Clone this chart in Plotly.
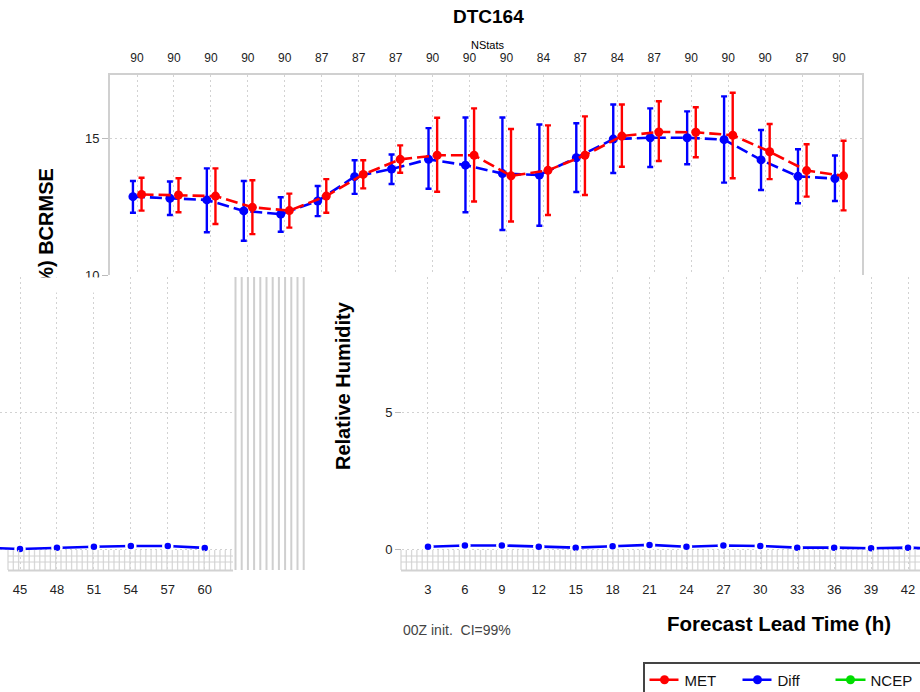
import plotly.graph_objects as go

# ---- data -------------------------------------------------------------
lead_hours = [3, 6, 9, 12, 15, 18, 21, 24, 27, 30, 33, 36, 39, 42, 45, 48, 51, 54, 57, 60]
nstats = [90, 90, 90, 90, 90, 87, 87, 87, 90, 90, 90, 84, 87, 84, 87, 90, 90, 90, 87, 90]

met_bcrmse = [12.94, 12.92, 12.88, 12.47, 12.35, 12.88, 13.67, 14.22, 14.37, 14.37,
              13.62, 13.82, 14.37, 15.07, 15.22, 15.21, 15.10, 14.50, 13.81, 13.62]
met_ci_lo = [12.35, 12.29, 11.86, 11.49, 11.73, 12.27, 13.16, 13.73, 13.04, 12.68,
             11.95, 12.19, 12.92, 13.95, 14.16, 14.30, 13.53, 13.50, 12.86, 12.36]
met_ci_hi = [13.55, 13.53, 13.89, 13.46, 12.97, 13.50, 14.19, 14.73, 15.74, 16.08,
             15.33, 15.46, 15.79, 16.22, 16.34, 16.12, 16.65, 15.51, 14.77, 14.90]

diff_bcrmse = [12.86, 12.80, 12.74, 12.34, 12.22, 12.70, 13.59, 13.87, 14.22, 14.01,
               13.70, 13.65, 14.28, 14.96, 15.01, 15.01, 14.94, 14.20, 13.60, 13.52]
diff_ci_lo = [12.27, 12.19, 11.56, 11.25, 11.58, 12.15, 12.96, 13.32, 13.15, 12.29,
              11.64, 11.80, 13.03, 13.72, 13.94, 14.04, 13.37, 13.10, 12.62, 12.70]
diff_ci_hi = [13.43, 13.41, 13.89, 13.43, 12.84, 13.25, 14.19, 14.40, 15.36, 15.75,
              15.75, 15.49, 15.54, 16.22, 16.08, 15.97, 16.52, 15.29, 14.59, 14.36]

# lower relative-humidity panel (pairwise difference)
rh_diff = [0.08, 0.13, 0.13, 0.08, 0.05, 0.10, 0.15, 0.08, 0.13, 0.11,
           0.05, 0.05, 0.03, 0.05, 0.00, 0.05, 0.08, 0.11, 0.11, 0.04]
rh_diff_err = [0.02, 0.02, 0.02, 0.02, 0.02, 0.02, 0.03, 0.02, 0.07, 0.04,
               0.03, 0.02, 0.02, 0.07, 0.10, 0.03, 0.02, 0.04, 0.04, 0.03]

ncep_bcrmse = [None]

# ---- geometry helpers (canvas 920 x 692, no margins) ------------------
W, H = 920, 692
def px(x):
    return x / W
def py(y):
    return 1 - y / H

RED, BLUE, GREEN = "#ff0000", "#0000ff", "#00dd00"
GRID = "#d2d2d2"
FRAME = "#d0d0d0"
FONT = "Liberation Sans"

met_x = [h + 0.37 for h in lead_hours]
diff_x = [h - 0.33 for h in lead_hours]

fig = go.Figure()

# top panel: BCRMSE with confidence intervals
fig.add_trace(go.Scatter(
    x=diff_x, y=diff_bcrmse, mode="lines+markers", name="Diff", legendrank=2,
    line=dict(color=BLUE, width=2.6, dash="12px,5px"),
    marker=dict(color=BLUE, size=9),
    error_y=dict(type="data", symmetric=False,
                 array=[h - v for h, v in zip(diff_ci_hi, diff_bcrmse)],
                 arrayminus=[v - l for l, v in zip(diff_ci_lo, diff_bcrmse)],
                 color=BLUE, thickness=2.4, width=3),
    xaxis="x", yaxis="y"))
fig.add_trace(go.Scatter(
    x=met_x, y=met_bcrmse, mode="lines+markers", name="MET", legendrank=1,
    line=dict(color=RED, width=2.6, dash="12px,5px"),
    marker=dict(color=RED, size=9),
    error_y=dict(type="data", symmetric=False,
                 array=[h - v for h, v in zip(met_ci_hi, met_bcrmse)],
                 arrayminus=[v - l for l, v in zip(met_ci_lo, met_bcrmse)],
                 color=RED, thickness=2.4, width=3),
    xaxis="x", yaxis="y"))
fig.add_trace(go.Scatter(
    x=[None], y=ncep_bcrmse, mode="lines+markers", name="NCEP", legendrank=3,
    line=dict(color=GREEN, width=2.6), marker=dict(color=GREEN, size=9),
    xaxis="x2", yaxis="y"))

# lower panels: relative humidity difference, split across two axes
for xa, ya in (("x3", "y3"), ("x4", "y4")):
    fig.add_trace(go.Scatter(
        x=lead_hours, y=rh_diff, mode="lines+markers", showlegend=False,
        line=dict(color=BLUE, width=2.6),
        marker=dict(color=BLUE, size=9, line=dict(color="white", width=2.5)),
        error_y=dict(type="data", array=rh_diff_err, color=BLUE, thickness=2.4, width=2),
        cliponaxis=True, xaxis=xa, yaxis=ya))

axis_common = dict(showgrid=True, gridcolor=GRID, griddash="2px,3px", gridwidth=1,
                   zeroline=False, tickfont=dict(family=FONT, size=13, color="#222"))

top_dom_x = [px(110), px(862)]
top_dom_y = [py(275), py(75)]
low_dom_y = [py(571), py(277)]
ppu = 27.4        # pixels per unit on the vertical scales
pph = 12.316      # pixels per hour on the horizontal scales
top_range = [3 - 27 / pph, 60 + 23 / pph]

fig.update_layout(
    width=W, height=H, margin=dict(l=0, r=0, t=0, b=0, autoexpand=False),
    paper_bgcolor="white", plot_bgcolor="rgba(0,0,0,0)",
    showlegend=True,
    xaxis=dict(domain=top_dom_x, range=top_range, anchor="y",
               tickvals=lead_hours, showticklabels=False, ticks="", showline=False,
               **axis_common),
    xaxis2=dict(overlaying="x", anchor="y", side="top", range=top_range,
                tickvals=lead_hours, ticktext=[str(n) for n in nstats],
                showticklabels=True, showgrid=False, zeroline=False,
                ticks="outside", ticklen=6, tickcolor="rgba(0,0,0,0)",
                showline=True, linecolor=FRAME, linewidth=2,
                tickfont=dict(family=FONT, size=12, color="#222")),
    yaxis=dict(domain=top_dom_y, range=[10, 10 + 200 / ppu], anchor="x",
               tickvals=[10, 15], ticks="outside", ticklen=6, tickcolor="#bbbbbb",
               showline=True, mirror=True, linecolor=FRAME, linewidth=2,
               **axis_common),
    xaxis3=dict(domain=[px(402), 1.0], range=[3 - 26 / pph, 42 + 12 / pph], anchor="y3",
                tickvals=lead_hours, ticks="", ticklabelstandoff=9, showline=False,
                **axis_common),
    yaxis3=dict(domain=low_dom_y, range=[-22 / ppu, 5 + 135 / ppu], anchor="x3",
                tickvals=[0, 5], ticks="outside", ticklen=6, tickcolor="#bbbbbb",
                showline=False, **axis_common),
    xaxis4=dict(domain=[0.0, px(235)], range=[45 - 20 / pph, 45 + 215 / pph], anchor="y4",
                tickvals=lead_hours, ticks="", ticklabelstandoff=9, showline=False,
                **axis_common),
    yaxis4=dict(domain=low_dom_y, range=[-22 / ppu, 5 + 135 / ppu], anchor="x4",
                tickvals=[0, 5], showticklabels=False, ticks="", showline=False,
                **axis_common),
    legend=dict(orientation="h", x=px(643), y=py(662), xanchor="left", yanchor="top",
                bgcolor="white", bordercolor="#444444", borderwidth=1.5,
                font=dict(family=FONT, size=15, color="#111"),
                entrywidth=48, entrywidthmode="pixels", itemwidth=30,
                traceorder="normal"),
)

# ---- decorative hatching under the lower panels -----------------------
def hatch_path(x0, x1, y0, y1, step):
    segs = []
    x = x0
    while x <= x1:
        segs.append(f"M{px(x):.5f},{py(y0):.5f} L{px(x):.5f},{py(y1):.5f}")
        x += step
    return " ".join(segs)

shapes = []
for x0, x1 in ((8, 233), (401, 920)):
    shapes.append(dict(type="path", xref="paper", yref="paper", layer="above",
                       path=hatch_path(x0, x1, 550, 570, 5.3),
                       line=dict(color="#d8d8d8", width=1.3)))
    for yy, w in ((556, 1), (562, 1), (570.5, 2)):
        shapes.append(dict(type="line", xref="paper", yref="paper", layer="above",
                           x0=px(x0), x1=px(x1), y0=py(yy), y1=py(yy),
                           line=dict(color="#d2d2d2", width=w)))
# vertical stripe band between the lower panels
shapes.append(dict(type="path", xref="paper", yref="paper", layer="above",
                   path=hatch_path(235.5, 304, 277, 570, 6.2),
                   line=dict(color="#cfcfcf", width=2)))
fig.update_layout(shapes=shapes)

# ---- text -------------------------------------------------------------
ann = [
    dict(text="<b>DTC164</b>", x=px(488), y=py(17), font=dict(size=19)),
    dict(text="NStats", x=px(488), y=py(45), font=dict(size=11)),
    dict(text="<b>(%) BCRMSE</b>", x=px(45), y=py(167), yanchor="top", textangle=-90,
         font=dict(size=20)),
    dict(text="<b>Relative Humidity</b>", x=px(343), y=py(386), textangle=-90,
         font=dict(size=20)),
    dict(text="00Z init.\u00a0 CI=99%", x=px(401), y=py(630), xanchor="left",
         font=dict(size=14, color="#444")),
    dict(text="<b>Forecast Lead Time (h)</b>", x=px(779), y=py(623), font=dict(size=20.5)),
]
annotations = []
for a in ann:
    a.setdefault("xanchor", "center")
    a.setdefault("yanchor", "middle")
    a["font"] = dict(family=FONT, color=a["font"].get("color", "#000"), size=a["font"]["size"])
    annotations.append(dict(xref="paper", yref="paper", showarrow=False, **a))
# white masks where the upper panel is cut off
for cx, w in ((45, 26), (95, 24)):
    annotations.append(dict(xref="paper", yref="paper", showarrow=False, text=" ",
                            x=px(cx), y=py(277), xanchor="center", yanchor="top",
                            width=w, height=14, bgcolor="white", borderpad=0))
fig.update_layout(annotations=annotations)

fig.write_html("out.html")
